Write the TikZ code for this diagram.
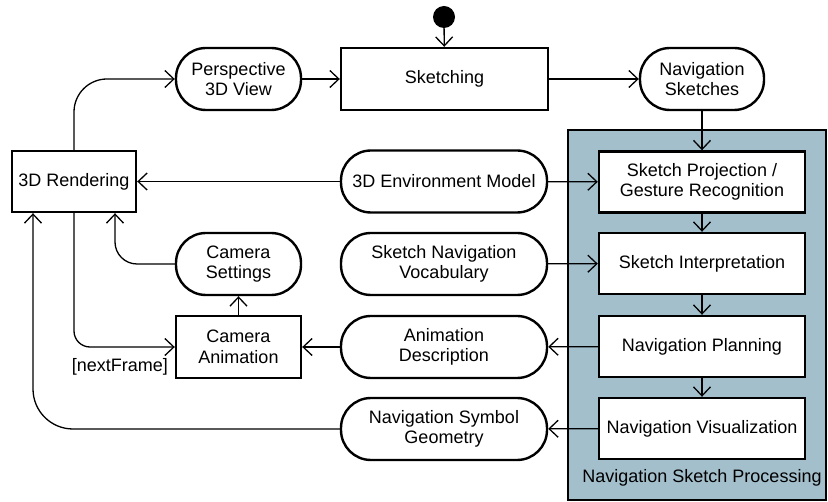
\documentclass[tikz,border=0pt]{standalone}
\usepackage{fontspec}
\setmainfont{Liberation Sans}
\usetikzlibrary{arrows.meta}
\definecolor{procblue}{RGB}{163,191,204}
\begin{document}
\begin{tikzpicture}[x=1pt,y=-1pt,
  font=\fontsize{18}{20.5}\selectfont,
  actbox/.style={draw,line width=2.4pt,fill=white,align=center,inner sep=0pt,minimum height=61pt},
  objnode/.style={draw,line width=2.4pt,fill=white,align=center,inner sep=0pt,minimum height=62pt,rounded corners=30pt},
  conn/.style={line width=1.3pt,-{Straight Barb[length=9pt,width=17pt,line width=1.3pt]}},
  plain/.style={line width=1.3pt}]
\useasboundingbox (0,0) rectangle (828,502);
% container
\node[draw,line width=2pt,fill=procblue,minimum width=258pt,minimum height=370pt,inner sep=0pt] (proc) at (697,315) {};
\node (proclabel) at (702,478) {Navigation Sketch Processing};
% start
\node[circle,fill=black,minimum size=22pt,inner sep=0pt] (start) at (444,17) {};
% top row
\node[objnode,minimum width=125pt] (persp) at (238.5,79) {Perspective\\3D View};
\node[actbox,minimum width=207pt,minimum height=62pt] (sketch) at (444.5,79) {Sketching};
\node[objnode,minimum width=124pt] (navsk) at (702,79) {Navigation\\Sketches};
% row 2
\node[actbox,minimum width=124pt] (rend) at (74,181.5) {3D Rendering};
\node[objnode,minimum width=206pt] (env) at (444,181.5) {3D Environment Model};
\node[actbox,minimum width=206pt] (proj) at (702,182) {Sketch Projection /\\Gesture Recognition};
% row 3
\node[objnode,minimum width=125pt] (camset) at (238.5,264) {Camera\\Settings};
\node[objnode,minimum width=206pt] (vocab) at (444,264) {Sketch Navigation\\Vocabulary};
\node[actbox,minimum width=206pt] (interp) at (702,263.5) {Sketch Interpretation};
% row 4
\node[actbox,minimum width=125pt,minimum height=62pt] (camanim) at (238.5,347) {Camera\\Animation};
\node[objnode,minimum width=206pt] (anim) at (444,347) {Animation\\Description};
\node[actbox,minimum width=206pt] (plan) at (702,346.5) {Navigation Planning};
% row 5
\node[objnode,minimum width=206pt] (nsg) at (444,429) {Navigation Symbol\\Geometry};
\node[actbox,minimum width=206pt] (vis) at (702,428.5) {Navigation Visualization};
% label
\node[anchor=east,inner sep=0pt] (nf) at (168,367) {[nextFrame]};
% connectors
\draw[conn] (start) -- (sketch);
\draw[conn] (persp) -- (sketch);
\draw[conn] (sketch) -- (navsk);
\draw[conn] (navsk) -- (proj);
\draw[conn,rounded corners=33pt] (rend.north) |- (persp.west);
\draw[conn] (env) -- (rend);
\draw[conn] (env) -- (proj);
\draw[conn] (proj) -- (interp);
\draw[conn] (interp) -- (plan);
\draw[conn] (plan) -- (vis);
\draw[conn] (vocab) -- (interp);
\draw[conn] (plan) -- (anim);
\draw[conn] (anim) -- (camanim);
\draw[conn] (camanim) -- (camset);
\draw[conn] (vis) -- (nsg);
\draw[conn,rounded corners=22pt] (camset.west) -| ([xshift=41pt]rend.south);
\draw[conn,rounded corners=16pt] (rend.south) |- (camanim.west);
\draw[conn,rounded corners=40pt] (nsg.west) -| ([xshift=-41pt]rend.south);
\end{tikzpicture}
\end{document}
